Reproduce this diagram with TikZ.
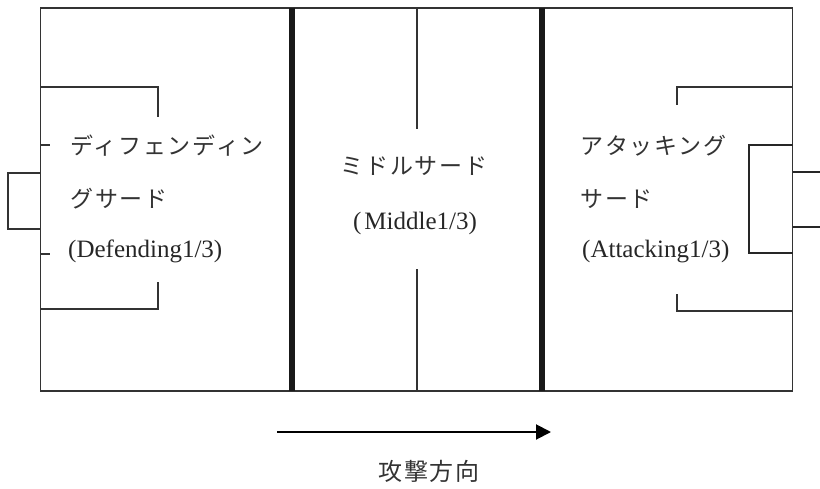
\documentclass[tikz,border=0pt]{standalone}
\usepackage{fontspec}
\setmainfont{Liberation Serif}
\newfontfamily\jp{Noto Sans CJK JP}[LetterSpace=8]
\usetikzlibrary{arrows.meta}
\begin{document}
\begin{tikzpicture}[x=1pt,y=-1pt,line cap=butt,line join=miter,
  pitch/.style={line width=1.3pt,draw=black!80},
  third/.style={line width=5.5pt,draw=black!90},
  garea/.style={line width=2pt,draw=black!85},
  jtext/.style={font=\jp\fontsize{23}{27}\selectfont,text=black!80,inner sep=0pt},
  ltext/.style={font=\fontsize{25}{29}\selectfont,text=black!85,inner sep=0pt},
  dirarrow/.style={line width=2pt,draw=black,-{Triangle[length=15pt,width=15pt]}}]
\useasboundingbox (0,0) rectangle (820,488);
% pitch outline
\draw[pitch] (40.5,8) rectangle (792.5,391);
% thirds
\draw[third] (292,8) -- (292,391);
\draw[third] (542,8) -- (542,391);
% halfway line (interrupted)
\draw[pitch] (417,8) -- (417,129);
\draw[pitch] (417,269) -- (417,391);
% left penalty area
\draw[pitch] (40.5,87) -- (158,87) -- (158,117);
\draw[pitch] (40.5,309) -- (158,309) -- (158,282);
\draw[pitch] (40.5,145) -- (50,145);
\draw[pitch] (40.5,254) -- (50,254);
% left goal
\draw[pitch] (40.5,173) -- (8,173) -- (8,229) -- (40.5,229);
% right penalty area
\draw[pitch] (792.5,87) -- (677,87) -- (677,105);
\draw[pitch] (792.5,311) -- (677,311) -- (677,294);
% right goal area
\draw[garea] (792.5,145) -- (749,145) -- (749,253) -- (792.5,253);
% right goal
\draw[garea] (792.5,172) -- (820,172);
\draw[garea] (792.5,227) -- (820,227);
% texts left
\node[jtext,anchor=base west] (d1) at (70,154) {ディフェンディン};
\node[jtext,anchor=base west] (d2) at (70,207) {グサード};
\node[ltext,anchor=base west] (d3) at (68,257) {(Defending1/3)};
% middle
\node[jtext,anchor=base] (m1) at (414,174) {ミドルサード};
\node[ltext,anchor=base] (m2) at (415,229) {(\hspace{3pt}Middle1/3)};
% right
\node[jtext,anchor=base west] (a1) at (580,154) {アタッキング};
\node[jtext,anchor=base west] (a2) at (580,207) {サード};
\node[ltext,anchor=base west] (a3) at (582,257) {(Attacking1/3)};
% direction arrow
\coordinate (arrS) at (277,432);
\coordinate (arrE) at (551,432);
\draw[dirarrow] (arrS) -- (arrE);
\node[jtext,font=\jp\fontsize{24}{28}\selectfont,anchor=base] (dir) at (429,480) {攻撃方向};
\end{tikzpicture}
\end{document}
